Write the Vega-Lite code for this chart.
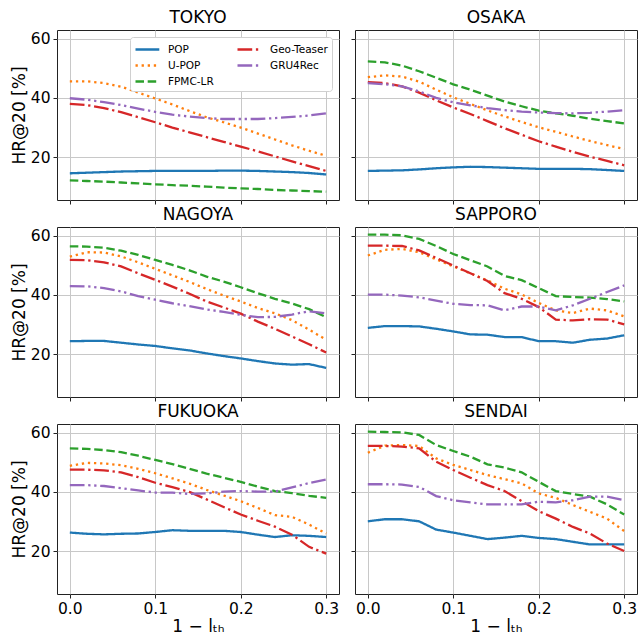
{
"$schema": "https://vega.github.io/schema/vega-lite/v6.json",
"padding": {"left": 9, "top": 8, "right": 0, "bottom": 0},
"background": "white",
"datasets": {"d": [
{"city":"TOKYO","model":"POP","x":0,"hr":14.6},{"city":"TOKYO","model":"POP","x":0.02,"hr":14.8},{"city":"TOKYO","model":"POP","x":0.04,"hr":15.0},{"city":"TOKYO","model":"POP","x":0.06,"hr":15.2},{"city":"TOKYO","model":"POP","x":0.08,"hr":15.3},{"city":"TOKYO","model":"POP","x":0.1,"hr":15.4},{"city":"TOKYO","model":"POP","x":0.12,"hr":15.4},{"city":"TOKYO","model":"POP","x":0.14,"hr":15.4},{"city":"TOKYO","model":"POP","x":0.16,"hr":15.4},{"city":"TOKYO","model":"POP","x":0.18,"hr":15.5},{"city":"TOKYO","model":"POP","x":0.2,"hr":15.5},{"city":"TOKYO","model":"POP","x":0.22,"hr":15.4},{"city":"TOKYO","model":"POP","x":0.24,"hr":15.2},{"city":"TOKYO","model":"POP","x":0.26,"hr":15.0},{"city":"TOKYO","model":"POP","x":0.28,"hr":14.7},{"city":"TOKYO","model":"POP","x":0.3,"hr":14.2},
{"city":"TOKYO","model":"U-POP","x":0,"hr":45.6},{"city":"TOKYO","model":"U-POP","x":0.02,"hr":45.6},{"city":"TOKYO","model":"U-POP","x":0.04,"hr":45.0},{"city":"TOKYO","model":"U-POP","x":0.06,"hr":43.8},{"city":"TOKYO","model":"U-POP","x":0.08,"hr":41.8},{"city":"TOKYO","model":"U-POP","x":0.1,"hr":39.8},{"city":"TOKYO","model":"U-POP","x":0.12,"hr":37.8},{"city":"TOKYO","model":"U-POP","x":0.14,"hr":35.6},{"city":"TOKYO","model":"U-POP","x":0.16,"hr":33.5},{"city":"TOKYO","model":"U-POP","x":0.18,"hr":31.8},{"city":"TOKYO","model":"U-POP","x":0.2,"hr":30.0},{"city":"TOKYO","model":"U-POP","x":0.22,"hr":28.0},{"city":"TOKYO","model":"U-POP","x":0.24,"hr":26.0},{"city":"TOKYO","model":"U-POP","x":0.26,"hr":24.0},{"city":"TOKYO","model":"U-POP","x":0.28,"hr":22.2},{"city":"TOKYO","model":"U-POP","x":0.3,"hr":20.5},
{"city":"TOKYO","model":"FPMC-LR","x":0,"hr":12.2},{"city":"TOKYO","model":"FPMC-LR","x":0.02,"hr":12.0},{"city":"TOKYO","model":"FPMC-LR","x":0.04,"hr":11.8},{"city":"TOKYO","model":"FPMC-LR","x":0.06,"hr":11.5},{"city":"TOKYO","model":"FPMC-LR","x":0.08,"hr":11.2},{"city":"TOKYO","model":"FPMC-LR","x":0.1,"hr":10.9},{"city":"TOKYO","model":"FPMC-LR","x":0.12,"hr":10.6},{"city":"TOKYO","model":"FPMC-LR","x":0.14,"hr":10.4},{"city":"TOKYO","model":"FPMC-LR","x":0.16,"hr":10.1},{"city":"TOKYO","model":"FPMC-LR","x":0.18,"hr":9.8},{"city":"TOKYO","model":"FPMC-LR","x":0.2,"hr":9.5},{"city":"TOKYO","model":"FPMC-LR","x":0.22,"hr":9.3},{"city":"TOKYO","model":"FPMC-LR","x":0.24,"hr":9.0},{"city":"TOKYO","model":"FPMC-LR","x":0.26,"hr":8.8},{"city":"TOKYO","model":"FPMC-LR","x":0.28,"hr":8.6},{"city":"TOKYO","model":"FPMC-LR","x":0.3,"hr":8.4},
{"city":"TOKYO","model":"Geo-Teaser","x":0,"hr":38.0},{"city":"TOKYO","model":"Geo-Teaser","x":0.02,"hr":37.6},{"city":"TOKYO","model":"Geo-Teaser","x":0.04,"hr":36.6},{"city":"TOKYO","model":"Geo-Teaser","x":0.06,"hr":35.2},{"city":"TOKYO","model":"Geo-Teaser","x":0.08,"hr":33.5},{"city":"TOKYO","model":"Geo-Teaser","x":0.1,"hr":31.8},{"city":"TOKYO","model":"Geo-Teaser","x":0.12,"hr":30.0},{"city":"TOKYO","model":"Geo-Teaser","x":0.14,"hr":28.4},{"city":"TOKYO","model":"Geo-Teaser","x":0.16,"hr":26.8},{"city":"TOKYO","model":"Geo-Teaser","x":0.18,"hr":25.2},{"city":"TOKYO","model":"Geo-Teaser","x":0.2,"hr":23.6},{"city":"TOKYO","model":"Geo-Teaser","x":0.22,"hr":22.0},{"city":"TOKYO","model":"Geo-Teaser","x":0.24,"hr":20.3},{"city":"TOKYO","model":"Geo-Teaser","x":0.26,"hr":18.6},{"city":"TOKYO","model":"Geo-Teaser","x":0.28,"hr":17.0},{"city":"TOKYO","model":"Geo-Teaser","x":0.3,"hr":15.4},
{"city":"TOKYO","model":"GRU4Rec","x":0,"hr":39.9},{"city":"TOKYO","model":"GRU4Rec","x":0.02,"hr":39.4},{"city":"TOKYO","model":"GRU4Rec","x":0.04,"hr":38.6},{"city":"TOKYO","model":"GRU4Rec","x":0.06,"hr":37.6},{"city":"TOKYO","model":"GRU4Rec","x":0.08,"hr":36.4},{"city":"TOKYO","model":"GRU4Rec","x":0.1,"hr":35.3},{"city":"TOKYO","model":"GRU4Rec","x":0.12,"hr":34.4},{"city":"TOKYO","model":"GRU4Rec","x":0.14,"hr":33.7},{"city":"TOKYO","model":"GRU4Rec","x":0.16,"hr":33.2},{"city":"TOKYO","model":"GRU4Rec","x":0.18,"hr":32.9},{"city":"TOKYO","model":"GRU4Rec","x":0.2,"hr":32.9},{"city":"TOKYO","model":"GRU4Rec","x":0.22,"hr":32.9},{"city":"TOKYO","model":"GRU4Rec","x":0.24,"hr":33.2},{"city":"TOKYO","model":"GRU4Rec","x":0.26,"hr":33.6},{"city":"TOKYO","model":"GRU4Rec","x":0.28,"hr":34.1},{"city":"TOKYO","model":"GRU4Rec","x":0.3,"hr":34.8},
{"city":"OSAKA","model":"POP","x":0,"hr":15.4},{"city":"OSAKA","model":"POP","x":0.02,"hr":15.5},{"city":"OSAKA","model":"POP","x":0.04,"hr":15.6},{"city":"OSAKA","model":"POP","x":0.06,"hr":15.9},{"city":"OSAKA","model":"POP","x":0.08,"hr":16.3},{"city":"OSAKA","model":"POP","x":0.1,"hr":16.6},{"city":"OSAKA","model":"POP","x":0.12,"hr":16.8},{"city":"OSAKA","model":"POP","x":0.14,"hr":16.7},{"city":"OSAKA","model":"POP","x":0.16,"hr":16.5},{"city":"OSAKA","model":"POP","x":0.18,"hr":16.3},{"city":"OSAKA","model":"POP","x":0.2,"hr":16.1},{"city":"OSAKA","model":"POP","x":0.22,"hr":16.1},{"city":"OSAKA","model":"POP","x":0.24,"hr":16.1},{"city":"OSAKA","model":"POP","x":0.26,"hr":16.0},{"city":"OSAKA","model":"POP","x":0.28,"hr":15.7},{"city":"OSAKA","model":"POP","x":0.3,"hr":15.4},
{"city":"OSAKA","model":"U-POP","x":0,"hr":47.0},{"city":"OSAKA","model":"U-POP","x":0.02,"hr":47.6},{"city":"OSAKA","model":"U-POP","x":0.04,"hr":47.2},{"city":"OSAKA","model":"U-POP","x":0.06,"hr":45.5},{"city":"OSAKA","model":"U-POP","x":0.08,"hr":42.8},{"city":"OSAKA","model":"U-POP","x":0.1,"hr":40.2},{"city":"OSAKA","model":"U-POP","x":0.12,"hr":38.0},{"city":"OSAKA","model":"U-POP","x":0.14,"hr":35.8},{"city":"OSAKA","model":"U-POP","x":0.16,"hr":33.8},{"city":"OSAKA","model":"U-POP","x":0.18,"hr":31.9},{"city":"OSAKA","model":"U-POP","x":0.2,"hr":30.1},{"city":"OSAKA","model":"U-POP","x":0.22,"hr":28.6},{"city":"OSAKA","model":"U-POP","x":0.24,"hr":27.0},{"city":"OSAKA","model":"U-POP","x":0.26,"hr":25.5},{"city":"OSAKA","model":"U-POP","x":0.28,"hr":24.1},{"city":"OSAKA","model":"U-POP","x":0.3,"hr":22.8},
{"city":"OSAKA","model":"FPMC-LR","x":0,"hr":52.3},{"city":"OSAKA","model":"FPMC-LR","x":0.02,"hr":52.0},{"city":"OSAKA","model":"FPMC-LR","x":0.04,"hr":50.9},{"city":"OSAKA","model":"FPMC-LR","x":0.06,"hr":49.0},{"city":"OSAKA","model":"FPMC-LR","x":0.08,"hr":46.8},{"city":"OSAKA","model":"FPMC-LR","x":0.1,"hr":44.6},{"city":"OSAKA","model":"FPMC-LR","x":0.12,"hr":42.8},{"city":"OSAKA","model":"FPMC-LR","x":0.14,"hr":40.8},{"city":"OSAKA","model":"FPMC-LR","x":0.16,"hr":38.8},{"city":"OSAKA","model":"FPMC-LR","x":0.18,"hr":37.2},{"city":"OSAKA","model":"FPMC-LR","x":0.2,"hr":35.7},{"city":"OSAKA","model":"FPMC-LR","x":0.22,"hr":34.8},{"city":"OSAKA","model":"FPMC-LR","x":0.24,"hr":34.0},{"city":"OSAKA","model":"FPMC-LR","x":0.26,"hr":33.0},{"city":"OSAKA","model":"FPMC-LR","x":0.28,"hr":32.2},{"city":"OSAKA","model":"FPMC-LR","x":0.3,"hr":31.4},
{"city":"OSAKA","model":"Geo-Teaser","x":0,"hr":45.3},{"city":"OSAKA","model":"Geo-Teaser","x":0.02,"hr":45.0},{"city":"OSAKA","model":"Geo-Teaser","x":0.04,"hr":43.9},{"city":"OSAKA","model":"Geo-Teaser","x":0.06,"hr":41.8},{"city":"OSAKA","model":"Geo-Teaser","x":0.08,"hr":39.2},{"city":"OSAKA","model":"Geo-Teaser","x":0.1,"hr":36.8},{"city":"OSAKA","model":"Geo-Teaser","x":0.12,"hr":34.6},{"city":"OSAKA","model":"Geo-Teaser","x":0.14,"hr":32.2},{"city":"OSAKA","model":"Geo-Teaser","x":0.16,"hr":29.8},{"city":"OSAKA","model":"Geo-Teaser","x":0.18,"hr":27.6},{"city":"OSAKA","model":"Geo-Teaser","x":0.2,"hr":25.4},{"city":"OSAKA","model":"Geo-Teaser","x":0.22,"hr":23.6},{"city":"OSAKA","model":"Geo-Teaser","x":0.24,"hr":21.8},{"city":"OSAKA","model":"Geo-Teaser","x":0.26,"hr":20.2},{"city":"OSAKA","model":"Geo-Teaser","x":0.28,"hr":18.8},{"city":"OSAKA","model":"Geo-Teaser","x":0.3,"hr":17.3},
{"city":"OSAKA","model":"GRU4Rec","x":0,"hr":45.0},{"city":"OSAKA","model":"GRU4Rec","x":0.02,"hr":44.6},{"city":"OSAKA","model":"GRU4Rec","x":0.04,"hr":43.9},{"city":"OSAKA","model":"GRU4Rec","x":0.06,"hr":42.2},{"city":"OSAKA","model":"GRU4Rec","x":0.08,"hr":40.0},{"city":"OSAKA","model":"GRU4Rec","x":0.1,"hr":38.5},{"city":"OSAKA","model":"GRU4Rec","x":0.12,"hr":37.5},{"city":"OSAKA","model":"GRU4Rec","x":0.14,"hr":36.6},{"city":"OSAKA","model":"GRU4Rec","x":0.16,"hr":35.9},{"city":"OSAKA","model":"GRU4Rec","x":0.18,"hr":35.4},{"city":"OSAKA","model":"GRU4Rec","x":0.2,"hr":35.1},{"city":"OSAKA","model":"GRU4Rec","x":0.22,"hr":34.9},{"city":"OSAKA","model":"GRU4Rec","x":0.24,"hr":34.8},{"city":"OSAKA","model":"GRU4Rec","x":0.26,"hr":35.0},{"city":"OSAKA","model":"GRU4Rec","x":0.28,"hr":35.4},{"city":"OSAKA","model":"GRU4Rec","x":0.3,"hr":35.9},
{"city":"NAGOYA","model":"POP","x":0,"hr":24.4},{"city":"NAGOYA","model":"POP","x":0.02,"hr":24.5},{"city":"NAGOYA","model":"POP","x":0.04,"hr":24.5},{"city":"NAGOYA","model":"POP","x":0.06,"hr":23.9},{"city":"NAGOYA","model":"POP","x":0.08,"hr":23.3},{"city":"NAGOYA","model":"POP","x":0.1,"hr":22.8},{"city":"NAGOYA","model":"POP","x":0.12,"hr":22.0},{"city":"NAGOYA","model":"POP","x":0.14,"hr":21.3},{"city":"NAGOYA","model":"POP","x":0.16,"hr":20.3},{"city":"NAGOYA","model":"POP","x":0.18,"hr":19.4},{"city":"NAGOYA","model":"POP","x":0.2,"hr":18.6},{"city":"NAGOYA","model":"POP","x":0.22,"hr":17.7},{"city":"NAGOYA","model":"POP","x":0.24,"hr":16.9},{"city":"NAGOYA","model":"POP","x":0.26,"hr":16.5},{"city":"NAGOYA","model":"POP","x":0.28,"hr":16.7},{"city":"NAGOYA","model":"POP","x":0.3,"hr":15.4},
{"city":"NAGOYA","model":"U-POP","x":0,"hr":52.9},{"city":"NAGOYA","model":"U-POP","x":0.02,"hr":54.4},{"city":"NAGOYA","model":"U-POP","x":0.04,"hr":54.3},{"city":"NAGOYA","model":"U-POP","x":0.06,"hr":53.0},{"city":"NAGOYA","model":"U-POP","x":0.08,"hr":51.0},{"city":"NAGOYA","model":"U-POP","x":0.1,"hr":48.8},{"city":"NAGOYA","model":"U-POP","x":0.12,"hr":46.6},{"city":"NAGOYA","model":"U-POP","x":0.14,"hr":44.4},{"city":"NAGOYA","model":"U-POP","x":0.16,"hr":42.0},{"city":"NAGOYA","model":"U-POP","x":0.18,"hr":39.8},{"city":"NAGOYA","model":"U-POP","x":0.2,"hr":37.8},{"city":"NAGOYA","model":"U-POP","x":0.22,"hr":35.6},{"city":"NAGOYA","model":"U-POP","x":0.24,"hr":33.8},{"city":"NAGOYA","model":"U-POP","x":0.26,"hr":31.5},{"city":"NAGOYA","model":"U-POP","x":0.28,"hr":28.3},{"city":"NAGOYA","model":"U-POP","x":0.3,"hr":24.9},
{"city":"NAGOYA","model":"FPMC-LR","x":0,"hr":56.4},{"city":"NAGOYA","model":"FPMC-LR","x":0.02,"hr":56.3},{"city":"NAGOYA","model":"FPMC-LR","x":0.04,"hr":55.9},{"city":"NAGOYA","model":"FPMC-LR","x":0.06,"hr":54.9},{"city":"NAGOYA","model":"FPMC-LR","x":0.08,"hr":53.5},{"city":"NAGOYA","model":"FPMC-LR","x":0.1,"hr":51.8},{"city":"NAGOYA","model":"FPMC-LR","x":0.12,"hr":50.1},{"city":"NAGOYA","model":"FPMC-LR","x":0.14,"hr":48.3},{"city":"NAGOYA","model":"FPMC-LR","x":0.16,"hr":46.2},{"city":"NAGOYA","model":"FPMC-LR","x":0.18,"hr":44.5},{"city":"NAGOYA","model":"FPMC-LR","x":0.2,"hr":42.6},{"city":"NAGOYA","model":"FPMC-LR","x":0.22,"hr":40.6},{"city":"NAGOYA","model":"FPMC-LR","x":0.24,"hr":38.7},{"city":"NAGOYA","model":"FPMC-LR","x":0.26,"hr":37.1},{"city":"NAGOYA","model":"FPMC-LR","x":0.28,"hr":35.2},{"city":"NAGOYA","model":"FPMC-LR","x":0.3,"hr":32.5},
{"city":"NAGOYA","model":"Geo-Teaser","x":0,"hr":51.8},{"city":"NAGOYA","model":"Geo-Teaser","x":0.02,"hr":51.7},{"city":"NAGOYA","model":"Geo-Teaser","x":0.04,"hr":51.0},{"city":"NAGOYA","model":"Geo-Teaser","x":0.06,"hr":49.6},{"city":"NAGOYA","model":"Geo-Teaser","x":0.08,"hr":47.3},{"city":"NAGOYA","model":"Geo-Teaser","x":0.1,"hr":45.1},{"city":"NAGOYA","model":"Geo-Teaser","x":0.12,"hr":42.8},{"city":"NAGOYA","model":"Geo-Teaser","x":0.14,"hr":40.4},{"city":"NAGOYA","model":"Geo-Teaser","x":0.16,"hr":37.8},{"city":"NAGOYA","model":"Geo-Teaser","x":0.18,"hr":35.8},{"city":"NAGOYA","model":"Geo-Teaser","x":0.2,"hr":33.7},{"city":"NAGOYA","model":"Geo-Teaser","x":0.22,"hr":31.0},{"city":"NAGOYA","model":"Geo-Teaser","x":0.24,"hr":28.6},{"city":"NAGOYA","model":"Geo-Teaser","x":0.26,"hr":26.0},{"city":"NAGOYA","model":"Geo-Teaser","x":0.28,"hr":23.4},{"city":"NAGOYA","model":"Geo-Teaser","x":0.3,"hr":20.6},
{"city":"NAGOYA","model":"GRU4Rec","x":0,"hr":43.0},{"city":"NAGOYA","model":"GRU4Rec","x":0.02,"hr":42.9},{"city":"NAGOYA","model":"GRU4Rec","x":0.04,"hr":42.3},{"city":"NAGOYA","model":"GRU4Rec","x":0.06,"hr":41.2},{"city":"NAGOYA","model":"GRU4Rec","x":0.08,"hr":39.6},{"city":"NAGOYA","model":"GRU4Rec","x":0.1,"hr":38.4},{"city":"NAGOYA","model":"GRU4Rec","x":0.12,"hr":37.2},{"city":"NAGOYA","model":"GRU4Rec","x":0.14,"hr":36.2},{"city":"NAGOYA","model":"GRU4Rec","x":0.16,"hr":35.1},{"city":"NAGOYA","model":"GRU4Rec","x":0.18,"hr":34.3},{"city":"NAGOYA","model":"GRU4Rec","x":0.2,"hr":33.3},{"city":"NAGOYA","model":"GRU4Rec","x":0.22,"hr":32.5},{"city":"NAGOYA","model":"GRU4Rec","x":0.24,"hr":32.6},{"city":"NAGOYA","model":"GRU4Rec","x":0.26,"hr":33.4},{"city":"NAGOYA","model":"GRU4Rec","x":0.28,"hr":34.5},{"city":"NAGOYA","model":"GRU4Rec","x":0.3,"hr":33.8},
{"city":"SAPPORO","model":"POP","x":0,"hr":28.9},{"city":"SAPPORO","model":"POP","x":0.02,"hr":29.5},{"city":"SAPPORO","model":"POP","x":0.04,"hr":29.5},{"city":"SAPPORO","model":"POP","x":0.06,"hr":29.4},{"city":"SAPPORO","model":"POP","x":0.08,"hr":28.6},{"city":"SAPPORO","model":"POP","x":0.1,"hr":27.7},{"city":"SAPPORO","model":"POP","x":0.12,"hr":26.7},{"city":"SAPPORO","model":"POP","x":0.14,"hr":26.6},{"city":"SAPPORO","model":"POP","x":0.16,"hr":25.8},{"city":"SAPPORO","model":"POP","x":0.18,"hr":25.8},{"city":"SAPPORO","model":"POP","x":0.2,"hr":24.4},{"city":"SAPPORO","model":"POP","x":0.22,"hr":24.4},{"city":"SAPPORO","model":"POP","x":0.24,"hr":23.9},{"city":"SAPPORO","model":"POP","x":0.26,"hr":24.9},{"city":"SAPPORO","model":"POP","x":0.28,"hr":25.3},{"city":"SAPPORO","model":"POP","x":0.3,"hr":26.4},
{"city":"SAPPORO","model":"U-POP","x":0,"hr":53.3},{"city":"SAPPORO","model":"U-POP","x":0.02,"hr":55.2},{"city":"SAPPORO","model":"U-POP","x":0.04,"hr":55.5},{"city":"SAPPORO","model":"U-POP","x":0.06,"hr":54.4},{"city":"SAPPORO","model":"U-POP","x":0.08,"hr":52.0},{"city":"SAPPORO","model":"U-POP","x":0.1,"hr":49.6},{"city":"SAPPORO","model":"U-POP","x":0.12,"hr":47.3},{"city":"SAPPORO","model":"U-POP","x":0.14,"hr":44.9},{"city":"SAPPORO","model":"U-POP","x":0.16,"hr":42.1},{"city":"SAPPORO","model":"U-POP","x":0.18,"hr":40.2},{"city":"SAPPORO","model":"U-POP","x":0.2,"hr":37.3},{"city":"SAPPORO","model":"U-POP","x":0.22,"hr":34.8},{"city":"SAPPORO","model":"U-POP","x":0.24,"hr":33.9},{"city":"SAPPORO","model":"U-POP","x":0.26,"hr":35.4},{"city":"SAPPORO","model":"U-POP","x":0.28,"hr":34.8},{"city":"SAPPORO","model":"U-POP","x":0.3,"hr":32.8},
{"city":"SAPPORO","model":"FPMC-LR","x":0,"hr":60.3},{"city":"SAPPORO","model":"FPMC-LR","x":0.02,"hr":60.3},{"city":"SAPPORO","model":"FPMC-LR","x":0.04,"hr":60.1},{"city":"SAPPORO","model":"FPMC-LR","x":0.06,"hr":58.9},{"city":"SAPPORO","model":"FPMC-LR","x":0.08,"hr":56.5},{"city":"SAPPORO","model":"FPMC-LR","x":0.1,"hr":53.8},{"city":"SAPPORO","model":"FPMC-LR","x":0.12,"hr":51.7},{"city":"SAPPORO","model":"FPMC-LR","x":0.14,"hr":49.6},{"city":"SAPPORO","model":"FPMC-LR","x":0.16,"hr":46.4},{"city":"SAPPORO","model":"FPMC-LR","x":0.18,"hr":45.0},{"city":"SAPPORO","model":"FPMC-LR","x":0.2,"hr":42.3},{"city":"SAPPORO","model":"FPMC-LR","x":0.22,"hr":39.6},{"city":"SAPPORO","model":"FPMC-LR","x":0.24,"hr":39.3},{"city":"SAPPORO","model":"FPMC-LR","x":0.26,"hr":39.1},{"city":"SAPPORO","model":"FPMC-LR","x":0.28,"hr":38.6},{"city":"SAPPORO","model":"FPMC-LR","x":0.3,"hr":37.8},
{"city":"SAPPORO","model":"Geo-Teaser","x":0,"hr":56.6},{"city":"SAPPORO","model":"Geo-Teaser","x":0.02,"hr":56.6},{"city":"SAPPORO","model":"Geo-Teaser","x":0.04,"hr":56.5},{"city":"SAPPORO","model":"Geo-Teaser","x":0.06,"hr":55.0},{"city":"SAPPORO","model":"Geo-Teaser","x":0.08,"hr":52.5},{"city":"SAPPORO","model":"Geo-Teaser","x":0.1,"hr":49.9},{"city":"SAPPORO","model":"Geo-Teaser","x":0.12,"hr":47.3},{"city":"SAPPORO","model":"Geo-Teaser","x":0.14,"hr":44.7},{"city":"SAPPORO","model":"Geo-Teaser","x":0.16,"hr":40.6},{"city":"SAPPORO","model":"Geo-Teaser","x":0.18,"hr":38.7},{"city":"SAPPORO","model":"Geo-Teaser","x":0.2,"hr":35.9},{"city":"SAPPORO","model":"Geo-Teaser","x":0.22,"hr":31.7},{"city":"SAPPORO","model":"Geo-Teaser","x":0.24,"hr":31.4},{"city":"SAPPORO","model":"Geo-Teaser","x":0.26,"hr":31.8},{"city":"SAPPORO","model":"Geo-Teaser","x":0.28,"hr":31.7},{"city":"SAPPORO","model":"Geo-Teaser","x":0.3,"hr":30.1},
{"city":"SAPPORO","model":"GRU4Rec","x":0,"hr":40.1},{"city":"SAPPORO","model":"GRU4Rec","x":0.02,"hr":40.1},{"city":"SAPPORO","model":"GRU4Rec","x":0.04,"hr":39.8},{"city":"SAPPORO","model":"GRU4Rec","x":0.06,"hr":39.2},{"city":"SAPPORO","model":"GRU4Rec","x":0.08,"hr":38.1},{"city":"SAPPORO","model":"GRU4Rec","x":0.1,"hr":37.0},{"city":"SAPPORO","model":"GRU4Rec","x":0.12,"hr":36.6},{"city":"SAPPORO","model":"GRU4Rec","x":0.14,"hr":36.5},{"city":"SAPPORO","model":"GRU4Rec","x":0.16,"hr":34.8},{"city":"SAPPORO","model":"GRU4Rec","x":0.18,"hr":36.1},{"city":"SAPPORO","model":"GRU4Rec","x":0.2,"hr":36.1},{"city":"SAPPORO","model":"GRU4Rec","x":0.22,"hr":34.8},{"city":"SAPPORO","model":"GRU4Rec","x":0.24,"hr":36.5},{"city":"SAPPORO","model":"GRU4Rec","x":0.26,"hr":38.7},{"city":"SAPPORO","model":"GRU4Rec","x":0.28,"hr":41.0},{"city":"SAPPORO","model":"GRU4Rec","x":0.3,"hr":43.2},
{"city":"FUKUOKA","model":"POP","x":0,"hr":26.3},{"city":"FUKUOKA","model":"POP","x":0.02,"hr":25.9},{"city":"FUKUOKA","model":"POP","x":0.04,"hr":25.7},{"city":"FUKUOKA","model":"POP","x":0.06,"hr":25.9},{"city":"FUKUOKA","model":"POP","x":0.08,"hr":26.0},{"city":"FUKUOKA","model":"POP","x":0.1,"hr":26.5},{"city":"FUKUOKA","model":"POP","x":0.12,"hr":27.1},{"city":"FUKUOKA","model":"POP","x":0.14,"hr":26.9},{"city":"FUKUOKA","model":"POP","x":0.16,"hr":26.9},{"city":"FUKUOKA","model":"POP","x":0.18,"hr":26.9},{"city":"FUKUOKA","model":"POP","x":0.2,"hr":26.5},{"city":"FUKUOKA","model":"POP","x":0.22,"hr":25.6},{"city":"FUKUOKA","model":"POP","x":0.24,"hr":24.8},{"city":"FUKUOKA","model":"POP","x":0.26,"hr":25.4},{"city":"FUKUOKA","model":"POP","x":0.28,"hr":25.2},{"city":"FUKUOKA","model":"POP","x":0.3,"hr":24.8},
{"city":"FUKUOKA","model":"U-POP","x":0,"hr":48.8},{"city":"FUKUOKA","model":"U-POP","x":0.02,"hr":49.8},{"city":"FUKUOKA","model":"U-POP","x":0.04,"hr":49.6},{"city":"FUKUOKA","model":"U-POP","x":0.06,"hr":49.0},{"city":"FUKUOKA","model":"U-POP","x":0.08,"hr":47.8},{"city":"FUKUOKA","model":"U-POP","x":0.1,"hr":46.3},{"city":"FUKUOKA","model":"U-POP","x":0.12,"hr":44.6},{"city":"FUKUOKA","model":"U-POP","x":0.14,"hr":42.8},{"city":"FUKUOKA","model":"U-POP","x":0.16,"hr":40.7},{"city":"FUKUOKA","model":"U-POP","x":0.18,"hr":38.8},{"city":"FUKUOKA","model":"U-POP","x":0.2,"hr":36.9},{"city":"FUKUOKA","model":"U-POP","x":0.22,"hr":34.6},{"city":"FUKUOKA","model":"U-POP","x":0.24,"hr":32.2},{"city":"FUKUOKA","model":"U-POP","x":0.26,"hr":31.6},{"city":"FUKUOKA","model":"U-POP","x":0.28,"hr":29.0},{"city":"FUKUOKA","model":"U-POP","x":0.3,"hr":26.0},
{"city":"FUKUOKA","model":"FPMC-LR","x":0,"hr":54.7},{"city":"FUKUOKA","model":"FPMC-LR","x":0.02,"hr":54.5},{"city":"FUKUOKA","model":"FPMC-LR","x":0.04,"hr":54.1},{"city":"FUKUOKA","model":"FPMC-LR","x":0.06,"hr":53.4},{"city":"FUKUOKA","model":"FPMC-LR","x":0.08,"hr":52.2},{"city":"FUKUOKA","model":"FPMC-LR","x":0.1,"hr":50.8},{"city":"FUKUOKA","model":"FPMC-LR","x":0.12,"hr":49.4},{"city":"FUKUOKA","model":"FPMC-LR","x":0.14,"hr":47.8},{"city":"FUKUOKA","model":"FPMC-LR","x":0.16,"hr":46.2},{"city":"FUKUOKA","model":"FPMC-LR","x":0.18,"hr":44.8},{"city":"FUKUOKA","model":"FPMC-LR","x":0.2,"hr":43.4},{"city":"FUKUOKA","model":"FPMC-LR","x":0.22,"hr":41.8},{"city":"FUKUOKA","model":"FPMC-LR","x":0.24,"hr":40.3},{"city":"FUKUOKA","model":"FPMC-LR","x":0.26,"hr":39.6},{"city":"FUKUOKA","model":"FPMC-LR","x":0.28,"hr":38.7},{"city":"FUKUOKA","model":"FPMC-LR","x":0.3,"hr":38.0},
{"city":"FUKUOKA","model":"Geo-Teaser","x":0,"hr":47.5},{"city":"FUKUOKA","model":"Geo-Teaser","x":0.02,"hr":47.5},{"city":"FUKUOKA","model":"Geo-Teaser","x":0.04,"hr":47.3},{"city":"FUKUOKA","model":"Geo-Teaser","x":0.06,"hr":46.6},{"city":"FUKUOKA","model":"Geo-Teaser","x":0.08,"hr":45.0},{"city":"FUKUOKA","model":"Geo-Teaser","x":0.1,"hr":43.1},{"city":"FUKUOKA","model":"Geo-Teaser","x":0.12,"hr":41.6},{"city":"FUKUOKA","model":"Geo-Teaser","x":0.14,"hr":40.0},{"city":"FUKUOKA","model":"Geo-Teaser","x":0.16,"hr":37.5},{"city":"FUKUOKA","model":"Geo-Teaser","x":0.18,"hr":34.9},{"city":"FUKUOKA","model":"Geo-Teaser","x":0.2,"hr":32.4},{"city":"FUKUOKA","model":"Geo-Teaser","x":0.22,"hr":30.3},{"city":"FUKUOKA","model":"Geo-Teaser","x":0.24,"hr":28.3},{"city":"FUKUOKA","model":"Geo-Teaser","x":0.26,"hr":25.6},{"city":"FUKUOKA","model":"Geo-Teaser","x":0.28,"hr":21.5},{"city":"FUKUOKA","model":"Geo-Teaser","x":0.3,"hr":19.2},
{"city":"FUKUOKA","model":"GRU4Rec","x":0,"hr":42.3},{"city":"FUKUOKA","model":"GRU4Rec","x":0.02,"hr":42.3},{"city":"FUKUOKA","model":"GRU4Rec","x":0.04,"hr":42.0},{"city":"FUKUOKA","model":"GRU4Rec","x":0.06,"hr":41.3},{"city":"FUKUOKA","model":"GRU4Rec","x":0.08,"hr":40.5},{"city":"FUKUOKA","model":"GRU4Rec","x":0.1,"hr":39.8},{"city":"FUKUOKA","model":"GRU4Rec","x":0.12,"hr":39.8},{"city":"FUKUOKA","model":"GRU4Rec","x":0.14,"hr":39.3},{"city":"FUKUOKA","model":"GRU4Rec","x":0.16,"hr":39.5},{"city":"FUKUOKA","model":"GRU4Rec","x":0.18,"hr":40.1},{"city":"FUKUOKA","model":"GRU4Rec","x":0.2,"hr":40.3},{"city":"FUKUOKA","model":"GRU4Rec","x":0.22,"hr":40.1},{"city":"FUKUOKA","model":"GRU4Rec","x":0.24,"hr":40.1},{"city":"FUKUOKA","model":"GRU4Rec","x":0.26,"hr":41.5},{"city":"FUKUOKA","model":"GRU4Rec","x":0.28,"hr":43.0},{"city":"FUKUOKA","model":"GRU4Rec","x":0.3,"hr":44.2},
{"city":"SENDAI","model":"POP","x":0,"hr":30.1},{"city":"SENDAI","model":"POP","x":0.02,"hr":30.8},{"city":"SENDAI","model":"POP","x":0.04,"hr":30.8},{"city":"SENDAI","model":"POP","x":0.06,"hr":30.1},{"city":"SENDAI","model":"POP","x":0.08,"hr":27.3},{"city":"SENDAI","model":"POP","x":0.1,"hr":26.3},{"city":"SENDAI","model":"POP","x":0.12,"hr":25.2},{"city":"SENDAI","model":"POP","x":0.14,"hr":24.1},{"city":"SENDAI","model":"POP","x":0.16,"hr":24.6},{"city":"SENDAI","model":"POP","x":0.18,"hr":25.2},{"city":"SENDAI","model":"POP","x":0.2,"hr":24.5},{"city":"SENDAI","model":"POP","x":0.22,"hr":24.1},{"city":"SENDAI","model":"POP","x":0.24,"hr":23.2},{"city":"SENDAI","model":"POP","x":0.26,"hr":22.3},{"city":"SENDAI","model":"POP","x":0.28,"hr":22.3},{"city":"SENDAI","model":"POP","x":0.3,"hr":22.3},
{"city":"SENDAI","model":"U-POP","x":0,"hr":53.2},{"city":"SENDAI","model":"U-POP","x":0.02,"hr":55.6},{"city":"SENDAI","model":"U-POP","x":0.04,"hr":55.8},{"city":"SENDAI","model":"U-POP","x":0.06,"hr":55.5},{"city":"SENDAI","model":"U-POP","x":0.08,"hr":51.3},{"city":"SENDAI","model":"U-POP","x":0.1,"hr":49.1},{"city":"SENDAI","model":"U-POP","x":0.12,"hr":47.4},{"city":"SENDAI","model":"U-POP","x":0.14,"hr":45.7},{"city":"SENDAI","model":"U-POP","x":0.16,"hr":44.3},{"city":"SENDAI","model":"U-POP","x":0.18,"hr":42.9},{"city":"SENDAI","model":"U-POP","x":0.2,"hr":39.5},{"city":"SENDAI","model":"U-POP","x":0.22,"hr":38.0},{"city":"SENDAI","model":"U-POP","x":0.24,"hr":35.6},{"city":"SENDAI","model":"U-POP","x":0.26,"hr":33.3},{"city":"SENDAI","model":"U-POP","x":0.28,"hr":31.0},{"city":"SENDAI","model":"U-POP","x":0.3,"hr":26.8},
{"city":"SENDAI","model":"FPMC-LR","x":0,"hr":60.3},{"city":"SENDAI","model":"FPMC-LR","x":0.02,"hr":60.2},{"city":"SENDAI","model":"FPMC-LR","x":0.04,"hr":60.1},{"city":"SENDAI","model":"FPMC-LR","x":0.06,"hr":59.2},{"city":"SENDAI","model":"FPMC-LR","x":0.08,"hr":55.8},{"city":"SENDAI","model":"FPMC-LR","x":0.1,"hr":53.8},{"city":"SENDAI","model":"FPMC-LR","x":0.12,"hr":51.9},{"city":"SENDAI","model":"FPMC-LR","x":0.14,"hr":49.3},{"city":"SENDAI","model":"FPMC-LR","x":0.16,"hr":48.2},{"city":"SENDAI","model":"FPMC-LR","x":0.18,"hr":46.6},{"city":"SENDAI","model":"FPMC-LR","x":0.2,"hr":43.4},{"city":"SENDAI","model":"FPMC-LR","x":0.22,"hr":40.3},{"city":"SENDAI","model":"FPMC-LR","x":0.24,"hr":39.3},{"city":"SENDAI","model":"FPMC-LR","x":0.26,"hr":38.4},{"city":"SENDAI","model":"FPMC-LR","x":0.28,"hr":35.8},{"city":"SENDAI","model":"FPMC-LR","x":0.3,"hr":32.4},
{"city":"SENDAI","model":"Geo-Teaser","x":0,"hr":55.5},{"city":"SENDAI","model":"Geo-Teaser","x":0.02,"hr":55.5},{"city":"SENDAI","model":"Geo-Teaser","x":0.04,"hr":55.3},{"city":"SENDAI","model":"Geo-Teaser","x":0.06,"hr":54.7},{"city":"SENDAI","model":"Geo-Teaser","x":0.08,"hr":50.2},{"city":"SENDAI","model":"Geo-Teaser","x":0.1,"hr":47.4},{"city":"SENDAI","model":"Geo-Teaser","x":0.12,"hr":44.8},{"city":"SENDAI","model":"Geo-Teaser","x":0.14,"hr":42.3},{"city":"SENDAI","model":"Geo-Teaser","x":0.16,"hr":40.3},{"city":"SENDAI","model":"Geo-Teaser","x":0.18,"hr":36.9},{"city":"SENDAI","model":"Geo-Teaser","x":0.2,"hr":33.5},{"city":"SENDAI","model":"Geo-Teaser","x":0.22,"hr":31.0},{"city":"SENDAI","model":"Geo-Teaser","x":0.24,"hr":28.2},{"city":"SENDAI","model":"Geo-Teaser","x":0.26,"hr":26.0},{"city":"SENDAI","model":"Geo-Teaser","x":0.28,"hr":22.6},{"city":"SENDAI","model":"Geo-Teaser","x":0.3,"hr":20.1},
{"city":"SENDAI","model":"GRU4Rec","x":0,"hr":42.6},{"city":"SENDAI","model":"GRU4Rec","x":0.02,"hr":42.6},{"city":"SENDAI","model":"GRU4Rec","x":0.04,"hr":42.5},{"city":"SENDAI","model":"GRU4Rec","x":0.06,"hr":41.7},{"city":"SENDAI","model":"GRU4Rec","x":0.08,"hr":38.6},{"city":"SENDAI","model":"GRU4Rec","x":0.1,"hr":37.2},{"city":"SENDAI","model":"GRU4Rec","x":0.12,"hr":36.5},{"city":"SENDAI","model":"GRU4Rec","x":0.14,"hr":35.8},{"city":"SENDAI","model":"GRU4Rec","x":0.16,"hr":35.8},{"city":"SENDAI","model":"GRU4Rec","x":0.18,"hr":35.8},{"city":"SENDAI","model":"GRU4Rec","x":0.2,"hr":36.7},{"city":"SENDAI","model":"GRU4Rec","x":0.22,"hr":36.5},{"city":"SENDAI","model":"GRU4Rec","x":0.24,"hr":37.2},{"city":"SENDAI","model":"GRU4Rec","x":0.26,"hr":38.4},{"city":"SENDAI","model":"GRU4Rec","x":0.28,"hr":38.4},{"city":"SENDAI","model":"GRU4Rec","x":0.3,"hr":37.2}
]},
"data": {"name": "d"},
"columns": 2,
"spacing": {"row": 0, "column": 10},
"resolve": {"legend": {"color": "independent", "strokeDash": "independent"}},
"concat": [
{"title": "TOKYO", "width": 282, "height": 170,
 "transform": [{"filter": "datum.city === 'TOKYO'"}],
 "mark": {"type": "line", "strokeWidth": 2.3},
 "encoding": {
  "x": {"field": "x", "type": "quantitative", "scale": {"domain": [-0.015, 0.315], "nice": false, "zero": false}, "axis": {"values": [0, 0.1, 0.2, 0.3], "labels": false, "title": null}},
  "y": {"field": "hr", "type": "quantitative", "scale": {"domain": [5.6, 62.9], "nice": false, "zero": false}, "axis": {"values": [20, 40, 60], "title": "HR@20 [%]"}},
  "color": {"field": "model", "type": "nominal", "scale": {"domain": ["POP", "U-POP", "FPMC-LR", "Geo-Teaser", "GRU4Rec"], "range": ["#1f77b4", "#ff7f0e", "#2ca02c", "#d62728", "#9467bd"]}, "legend": {"orient": "top-right", "columns": 2, "title": null, "offset": 7, "fillColor": "white", "strokeColor": "#d0d0d0", "cornerRadius": 3, "padding": 4, "symbolType": "M-1,0H2.4", "symbolSize": 196, "symbolStrokeWidth": 2.3, "labelFontSize": 10.5, "labelOffset": 17, "columnPadding": 18, "rowPadding": 2}},
  "strokeDash": {"field": "model", "type": "nominal", "scale": {"domain": ["POP", "U-POP", "FPMC-LR", "Geo-Teaser", "GRU4Rec"], "range": [[1, 0], [2.3, 3.8], [8.5, 3.7], [14.7, 3.7, 2.3, 3.7], [14.7, 3.7, 2.3, 3.7, 2.3, 3.7]]}, "legend": {"orient": "top-right", "columns": 2, "title": null, "offset": 7, "fillColor": "white", "strokeColor": "#d0d0d0", "cornerRadius": 3, "padding": 4, "symbolType": "M-1,0H2.4", "symbolSize": 196, "symbolStrokeWidth": 2.3, "labelFontSize": 10.5, "labelOffset": 17, "columnPadding": 18, "rowPadding": 2}}
 }},
{"title": "OSAKA", "width": 282, "height": 170,
 "transform": [{"filter": "datum.city === 'OSAKA'"}],
 "mark": {"type": "line", "strokeWidth": 2.3},
 "encoding": {
  "x": {"field": "x", "type": "quantitative", "scale": {"domain": [-0.015, 0.315], "nice": false, "zero": false}, "axis": {"values": [0, 0.1, 0.2, 0.3], "labels": false, "title": null}},
  "y": {"field": "hr", "type": "quantitative", "scale": {"domain": [5.6, 62.9], "nice": false, "zero": false}, "axis": {"values": [20, 40, 60], "labels": false, "title": null}},
  "color": {"field": "model", "type": "nominal", "scale": {"domain": ["POP", "U-POP", "FPMC-LR", "Geo-Teaser", "GRU4Rec"], "range": ["#1f77b4", "#ff7f0e", "#2ca02c", "#d62728", "#9467bd"]}, "legend": null},
  "strokeDash": {"field": "model", "type": "nominal", "scale": {"domain": ["POP", "U-POP", "FPMC-LR", "Geo-Teaser", "GRU4Rec"], "range": [[1, 0], [2.3, 3.8], [8.5, 3.7], [14.7, 3.7, 2.3, 3.7], [14.7, 3.7, 2.3, 3.7, 2.3, 3.7]]}, "legend": null}
 }},
{"title": "NAGOYA", "width": 282, "height": 170,
 "transform": [{"filter": "datum.city === 'NAGOYA'"}],
 "mark": {"type": "line", "strokeWidth": 2.3},
 "encoding": {
  "x": {"field": "x", "type": "quantitative", "scale": {"domain": [-0.015, 0.315], "nice": false, "zero": false}, "axis": {"values": [0, 0.1, 0.2, 0.3], "labels": false, "title": null}},
  "y": {"field": "hr", "type": "quantitative", "scale": {"domain": [5.6, 62.9], "nice": false, "zero": false}, "axis": {"values": [20, 40, 60], "title": "HR@20 [%]"}},
  "color": {"field": "model", "type": "nominal", "scale": {"domain": ["POP", "U-POP", "FPMC-LR", "Geo-Teaser", "GRU4Rec"], "range": ["#1f77b4", "#ff7f0e", "#2ca02c", "#d62728", "#9467bd"]}, "legend": null},
  "strokeDash": {"field": "model", "type": "nominal", "scale": {"domain": ["POP", "U-POP", "FPMC-LR", "Geo-Teaser", "GRU4Rec"], "range": [[1, 0], [2.3, 3.8], [8.5, 3.7], [14.7, 3.7, 2.3, 3.7], [14.7, 3.7, 2.3, 3.7, 2.3, 3.7]]}, "legend": null}
 }},
{"title": "SAPPORO", "width": 282, "height": 170,
 "transform": [{"filter": "datum.city === 'SAPPORO'"}],
 "mark": {"type": "line", "strokeWidth": 2.3},
 "encoding": {
  "x": {"field": "x", "type": "quantitative", "scale": {"domain": [-0.015, 0.315], "nice": false, "zero": false}, "axis": {"values": [0, 0.1, 0.2, 0.3], "labels": false, "title": null}},
  "y": {"field": "hr", "type": "quantitative", "scale": {"domain": [5.6, 62.9], "nice": false, "zero": false}, "axis": {"values": [20, 40, 60], "labels": false, "title": null}},
  "color": {"field": "model", "type": "nominal", "scale": {"domain": ["POP", "U-POP", "FPMC-LR", "Geo-Teaser", "GRU4Rec"], "range": ["#1f77b4", "#ff7f0e", "#2ca02c", "#d62728", "#9467bd"]}, "legend": null},
  "strokeDash": {"field": "model", "type": "nominal", "scale": {"domain": ["POP", "U-POP", "FPMC-LR", "Geo-Teaser", "GRU4Rec"], "range": [[1, 0], [2.3, 3.8], [8.5, 3.7], [14.7, 3.7, 2.3, 3.7], [14.7, 3.7, 2.3, 3.7, 2.3, 3.7]]}, "legend": null}
 }},
{"title": "FUKUOKA", "width": 282, "height": 170,
 "transform": [{"filter": "datum.city === 'FUKUOKA'"}],
 "mark": {"type": "line", "strokeWidth": 2.3},
 "encoding": {
  "x": {"field": "x", "type": "quantitative", "scale": {"domain": [-0.015, 0.315], "nice": false, "zero": false}, "axis": {"values": [0, 0.1, 0.2, 0.3], "format": ".1f", "title": "1 − lₜₕ"}},
  "y": {"field": "hr", "type": "quantitative", "scale": {"domain": [5.6, 62.9], "nice": false, "zero": false}, "axis": {"values": [20, 40, 60], "title": "HR@20 [%]"}},
  "color": {"field": "model", "type": "nominal", "scale": {"domain": ["POP", "U-POP", "FPMC-LR", "Geo-Teaser", "GRU4Rec"], "range": ["#1f77b4", "#ff7f0e", "#2ca02c", "#d62728", "#9467bd"]}, "legend": null},
  "strokeDash": {"field": "model", "type": "nominal", "scale": {"domain": ["POP", "U-POP", "FPMC-LR", "Geo-Teaser", "GRU4Rec"], "range": [[1, 0], [2.3, 3.8], [8.5, 3.7], [14.7, 3.7, 2.3, 3.7], [14.7, 3.7, 2.3, 3.7, 2.3, 3.7]]}, "legend": null}
 }},
{"title": "SENDAI", "width": 282, "height": 170,
 "transform": [{"filter": "datum.city === 'SENDAI'"}],
 "mark": {"type": "line", "strokeWidth": 2.3},
 "encoding": {
  "x": {"field": "x", "type": "quantitative", "scale": {"domain": [-0.015, 0.315], "nice": false, "zero": false}, "axis": {"values": [0, 0.1, 0.2, 0.3], "format": ".1f", "title": "1 − lₜₕ"}},
  "y": {"field": "hr", "type": "quantitative", "scale": {"domain": [5.6, 62.9], "nice": false, "zero": false}, "axis": {"values": [20, 40, 60], "labels": false, "title": null}},
  "color": {"field": "model", "type": "nominal", "scale": {"domain": ["POP", "U-POP", "FPMC-LR", "Geo-Teaser", "GRU4Rec"], "range": ["#1f77b4", "#ff7f0e", "#2ca02c", "#d62728", "#9467bd"]}, "legend": null},
  "strokeDash": {"field": "model", "type": "nominal", "scale": {"domain": ["POP", "U-POP", "FPMC-LR", "Geo-Teaser", "GRU4Rec"], "range": [[1, 0], [2.3, 3.8], [8.5, 3.7], [14.7, 3.7, 2.3, 3.7], [14.7, 3.7, 2.3, 3.7, 2.3, 3.7]]}, "legend": null}
 }}
],
"config": {
 "font": "DejaVu Sans",
 "view": {"stroke": "#222222", "strokeWidth": 1},
 "axis": {"grid": true, "gridColor": "#c8c8c8", "gridWidth": 1, "domain": false, "ticks": true, "tickColor": "#222222", "tickSize": 4, "labelFontSize": 15.5, "labelColor": "black", "labelFlush": false, "labelPadding": 3, "titleFontSize": 17, "titleFontWeight": "normal", "titleColor": "black", "titlePadding": 2},
 "legend": {"labelFont": "DejaVu Sans", "labelColor": "black"},
 "title": {"fontSize": 17, "fontWeight": "normal", "color": "black", "offset": 3, "anchor": "middle"}
}
}
